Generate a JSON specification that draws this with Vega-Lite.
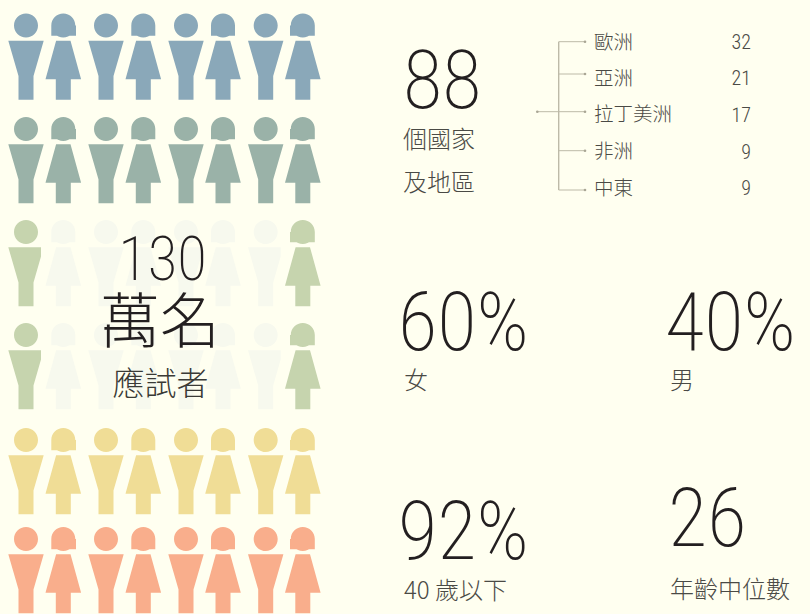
{
"$schema":"https://vega.github.io/schema/vega-lite/v6.json",
"width":810,"height":614,"autosize":{"type":"none"},"padding":0,
"background":"#fffff0",
"config":{"view":{"stroke":null}},
"datasets":{
"icons":[
{"x":26,"y":25.5,"kind":"man","tier":"blue"},{"x":63.3,"y":25.5,"kind":"womanR","tier":"blue"},{"x":106,"y":25.5,"kind":"man","tier":"blue"},{"x":143.3,"y":25.5,"kind":"woman","tier":"blue"},{"x":186,"y":25.5,"kind":"man","tier":"blue"},{"x":223,"y":25.5,"kind":"woman","tier":"blue"},{"x":265.7,"y":25.5,"kind":"man","tier":"blue"},{"x":302.8,"y":25.5,"kind":"womanL","tier":"blue"},
{"x":26,"y":129,"kind":"man","tier":"teal"},{"x":63.3,"y":129,"kind":"womanR","tier":"teal"},{"x":106,"y":129,"kind":"man","tier":"teal"},{"x":143.3,"y":129,"kind":"woman","tier":"teal"},{"x":186,"y":129,"kind":"man","tier":"teal"},{"x":223,"y":129,"kind":"woman","tier":"teal"},{"x":265.7,"y":129,"kind":"man","tier":"teal"},{"x":302.8,"y":129,"kind":"womanL","tier":"teal"},
{"x":26,"y":232,"kind":"manClip","tier":"sage"},{"x":63.3,"y":232,"kind":"woman","tier":"pale"},{"x":106,"y":232,"kind":"man","tier":"pale"},{"x":143.3,"y":232,"kind":"woman","tier":"pale"},{"x":186,"y":232,"kind":"man","tier":"pale"},{"x":223,"y":232,"kind":"woman","tier":"pale"},{"x":265.7,"y":232,"kind":"manClip","tier":"pale"},{"x":302.8,"y":232,"kind":"womanL","tier":"sage"},
{"x":26,"y":335,"kind":"manClip","tier":"sage"},{"x":63.3,"y":335,"kind":"woman","tier":"pale"},{"x":106,"y":335,"kind":"man","tier":"pale"},{"x":143.3,"y":335,"kind":"woman","tier":"pale"},{"x":186,"y":335,"kind":"man","tier":"pale"},{"x":223,"y":335,"kind":"woman","tier":"pale"},{"x":265.7,"y":335,"kind":"manClip","tier":"pale"},{"x":302.8,"y":335,"kind":"womanL","tier":"sage"},
{"x":26,"y":440,"kind":"man","tier":"yellow"},{"x":63.3,"y":440,"kind":"womanR","tier":"yellow"},{"x":106,"y":440,"kind":"man","tier":"yellow"},{"x":143.3,"y":440,"kind":"woman","tier":"yellow"},{"x":186,"y":440,"kind":"man","tier":"yellow"},{"x":223,"y":440,"kind":"woman","tier":"yellow"},{"x":265.7,"y":440,"kind":"man","tier":"yellow"},{"x":302.8,"y":440,"kind":"womanL","tier":"yellow"},
{"x":26,"y":539,"kind":"man","tier":"orange"},{"x":63.3,"y":539,"kind":"womanR","tier":"orange"},{"x":106,"y":539,"kind":"man","tier":"orange"},{"x":143.3,"y":539,"kind":"woman","tier":"orange"},{"x":186,"y":539,"kind":"man","tier":"orange"},{"x":223,"y":539,"kind":"woman","tier":"orange"},{"x":265.7,"y":539,"kind":"man","tier":"orange"},{"x":302.8,"y":539,"kind":"womanL","tier":"orange"}
],
"tree":[
{"x":558.7,"x2":558.7,"y":41.7,"y2":190,"w":"trunk"},
{"x":558.7,"x2":585,"y":41.7,"y2":41.7,"w":"branch"},
{"x":558.7,"x2":585,"y":74,"y2":74,"w":"branch"},
{"x":537.3,"x2":585,"y":111.7,"y2":111.7,"w":"branch"},
{"x":558.7,"x2":585,"y":150.7,"y2":150.7,"w":"branch"},
{"x":558.7,"x2":585,"y":190,"y2":190,"w":"branch"}
],
"dots":[{"x":585,"y":41.7},{"x":585,"y":74},{"x":585,"y":111.7},{"x":585,"y":150.7},{"x":585,"y":190},{"x":537.3,"y":111.7}],
"big":[
{"x":403,"y":108.3,"t":"88"},{"x":398,"y":349.5,"t":"60%"},{"x":665,"y":349.5,"t":"40%"},{"x":398,"y":559,"t":"92%"},{"x":668,"y":546,"t":"26"}
],
"mid":[{"x":162.5,"y":279.5,"t":"130"}],
"regions":[
{"x":594,"y":48.5,"t":"歐洲"},{"x":594,"y":85,"t":"亞洲"},{"x":594,"y":121,"t":"拉丁美洲"},{"x":594,"y":158,"t":"非洲"},{"x":594,"y":195,"t":"中東"}
],
"counts":[
{"x":751,"y":49,"t":"32"},{"x":751,"y":85,"t":"21"},{"x":751,"y":122,"t":"17"},{"x":751,"y":159,"t":"9"},{"x":751,"y":195,"t":"9"}
],
"labels":[
{"x":403,"y":148,"t":"個國家"},{"x":403,"y":191,"t":"及地區"},{"x":404,"y":389,"t":"女"},{"x":670,"y":389,"t":"男"},{"x":404,"y":599,"t":"40 歲以下"},{"x":670,"y":598,"t":"年齡中位數"}
],
"wan":[{"x":160,"y":343,"t":"萬名"}],
"ying":[{"x":160.5,"y":395,"t":"應試者"}]
},
"encoding":{
"x":{"field":"x","type":"quantitative","scale":{"domain":[0,810],"nice":false,"zero":false},"axis":null},
"y":{"field":"y","type":"quantitative","scale":{"domain":[614,0],"nice":false,"zero":false},"axis":null}
},
"layer":[
{"data":{"name":"icons"},"mark":{"type":"point","filled":true,"opacity":1,"size":4,"strokeWidth":0},
"encoding":{
"color":{"field":"tier","type":"nominal","legend":null,"scale":{"domain":["blue","teal","sage","pale","yellow","orange"],"range":["#8aa8b9","#9ab2a8","#c6d4ae","#f7f9ee","#f0dd96","#f9ae8c"]}},
"shape":{"field":"kind","type":"nominal","legend":null,"scale":{"domain":["man","manClip","woman","womanR","womanL"],"range":[
"M-12,0A12,12 0 1 1 12,0A12,12 0 1 1 -12,0ZM-17.7,15.2L17.7,15.2L7.5,50.5L7.5,74.2L-7.5,74.2L-7.5,50.5Z",
"M-12,0A12,12 0 1 1 12,0A12,12 0 1 1 -12,0ZM-17.7,15.2L15,15.2L15,24.5L7.5,50.5L7.5,74.2L-7.5,74.2L-7.5,50.5Z",
"M-12,0A12,12 0 1 1 12,0A12,12 0 1 1 -12,0ZM-12,0L12,0L12,10.2L-12,10.2ZM-7.2,15.2L7.2,15.2L17.8,53.8L7.5,53.8L7.5,74.2L-7.5,74.2L-7.5,53.8L-17.8,53.8Z",
"M-12,0A12,12 0 1 1 12,0A12,12 0 1 1 -12,0ZM-12,0L12.7,0L12.7,10.2L-12,10.2ZM-7.2,15.2L7.2,15.2L17.8,53.8L7.5,53.8L7.5,74.2L-7.5,74.2L-7.5,53.8L-17.8,53.8Z",
"M-12,0A12,12 0 1 1 12,0A12,12 0 1 1 -12,0ZM-12.8,0L12,0L12,10.2L-12.8,10.2ZM-7.2,15.2L7.2,15.2L17.8,53.8L7.5,53.8L7.5,74.2L-7.5,74.2L-7.5,53.8L-17.8,53.8Z"
]}}
}},
{"data":{"name":"tree"},"mark":{"type":"rule","color":"#bdbaa8"},
"encoding":{"x2":{"field":"x2"},"y2":{"field":"y2"},"strokeWidth":{"field":"w","type":"nominal","legend":null,"scale":{"domain":["trunk","branch"],"range":[1.4,1]}}}},
{"data":{"name":"dots"},"mark":{"type":"point","filled":true,"opacity":1,"size":7,"color":"#a9a695"}},
{"data":{"name":"big"},"mark":{"type":"text","align":"left","baseline":"alphabetic","font":"Roboto Condensed","fontWeight":200,"fontSize":81,"fill":"#231f20"},"encoding":{"text":{"field":"t"}}},
{"data":{"name":"mid"},"mark":{"type":"text","align":"center","baseline":"alphabetic","font":"Roboto Condensed","fontWeight":200,"fontSize":61,"fill":"#231f20"},"encoding":{"text":{"field":"t"}}},
{"data":{"name":"counts"},"mark":{"type":"text","align":"right","baseline":"alphabetic","font":"Roboto Condensed","fontWeight":300,"fontSize":20,"fill":"#4a4a45"},"encoding":{"text":{"field":"t"}}},
{"data":{"name":"regions"},"mark":{"type":"text","align":"left","baseline":"alphabetic","font":"Noto Sans CJK TC","fontWeight":300,"fontSize":19.5,"fill":"#4a4a45"},"encoding":{"text":{"field":"t"}}},
{"data":{"name":"labels"},"mark":{"type":"text","align":"left","baseline":"alphabetic","font":"Noto Sans CJK TC","fontWeight":300,"fontSize":24,"fill":"#4a4a45"},"encoding":{"text":{"field":"t"}}},
{"data":{"name":"wan"},"mark":{"type":"text","align":"center","baseline":"alphabetic","font":"Noto Sans CJK TC","fontWeight":300,"fontSize":60,"fill":"#231f20"},"encoding":{"text":{"field":"t"}}},
{"data":{"name":"ying"},"mark":{"type":"text","align":"center","baseline":"alphabetic","font":"Noto Sans CJK TC","fontWeight":300,"fontSize":32,"fill":"#3a3a36"},"encoding":{"text":{"field":"t"}}}
]
}
